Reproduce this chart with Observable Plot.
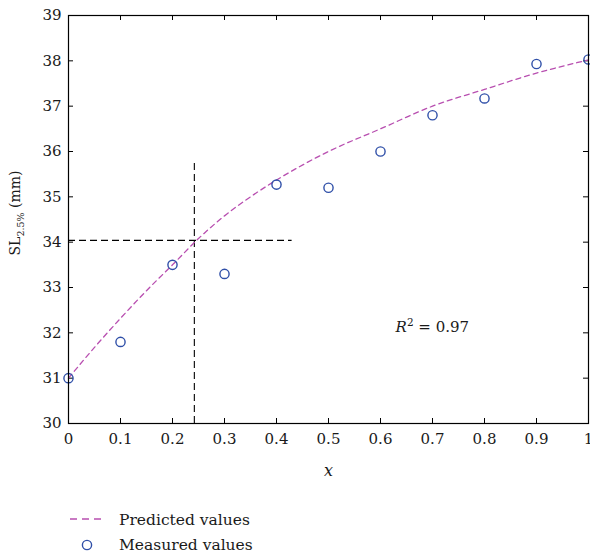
<!DOCTYPE html>
<html><head><meta charset="utf-8">
<script src="https://cdn.jsdelivr.net/npm/d3@7"></script>
<script src="https://cdn.jsdelivr.net/npm/@observablehq/plot@0.6"></script>
<style>
body{margin:0;background:#fff;font-family:"DejaVu Serif",serif;}
#wrap{position:relative;width:590px;height:556px;overflow:hidden;background:#fff}
#chart{position:absolute;left:0;top:0}
#legend{position:absolute;left:0;top:490px}
g[aria-label="x-axis label"] text{font-style:italic;font-size:16px}
</style></head><body>
<div id="wrap"><div id="chart"></div><div id="legend"></div></div>
<script>
// Measured values
const xMeasured = [0, 0.1, 0.2, 0.3, 0.4, 0.5, 0.6, 0.7, 0.8, 0.9, 1.0];
const yMeasured = [31.0, 31.8, 33.5, 33.3, 35.27, 35.2, 36.0, 36.8, 37.17, 37.93, 38.03];
// Predicted values (dashed curve)
const xPredicted = [0, 0.05, 0.1, 0.15, 0.2, 0.25, 0.3, 0.35, 0.4, 0.5, 0.6, 0.7, 0.8, 0.9, 1.0];
const yPredicted = [31.0, 31.68, 32.32, 32.93, 33.5, 34.08, 34.58, 35.0, 35.37, 36.0, 36.5, 37.0, 37.37, 37.73, 38.02];
// Reference lines
const refX = 0.242, refXTop = 35.76;
const refY = 34.04, refYRight = 0.43;
// Ticks
const xTicks = [0, 0.1, 0.2, 0.3, 0.4, 0.5, 0.6, 0.7, 0.8, 0.9, 1];
const yTicks = [30, 31, 32, 33, 34, 35, 36, 37, 38, 39];
const rSquared = "0.97";
const rLabelPos = {x: 0.63, y: 32.0};

const W = 590, H = 490, mL = 68, mR = 2, mT = 15, mB = 67;
const xDom = [0, 1], yDom = [30, 39];
const tickPx = 5;
const tLy = (yDom[1] - yDom[0]) * tickPx / (H - mT - mB);
const tLx = (xDom[1] - xDom[0]) * tickPx / (W - mL - mR);

const measured = xMeasured.map((x, i) => ({x, y: yMeasured[i]}));
const predicted = xPredicted.map((x, i) => ({x, y: yPredicted[i]}));

const purple = "#b84fb0", blue = "#2f4fa8";
const FONT = "DejaVu Serif, serif";

const chart = Plot.plot({
  width: W, height: H,
  marginLeft: mL, marginRight: mR, marginTop: mT, marginBottom: mB,
  style: {fontFamily: FONT, fontSize: "15px", color: "#1a1a1a", background: "#fff", overflow: "visible"},
  x: {domain: xDom, ticks: xTicks, tickFormat: d => String(d), tickSize: 0, tickPadding: 10,
      label: "x", labelAnchor: "center", labelArrow: "none", labelOffset: 52},
  y: {domain: yDom, ticks: yTicks, tickSize: 0, tickPadding: 7, label: null},
  marks: [
    Plot.ruleX(xTicks, {x: d => d, y1: yDom[0], y2: yDom[0] + tLy, stroke: "#000"}),
    Plot.ruleX(xTicks, {x: d => d, y1: yDom[1], y2: yDom[1] - tLy, stroke: "#000"}),
    Plot.ruleY(yTicks, {y: d => d, x1: xDom[0], x2: xDom[0] + tLx, stroke: "#000"}),
    Plot.ruleY(yTicks, {y: d => d, x1: xDom[1], x2: xDom[1] - tLx, stroke: "#000"}),
    Plot.ruleX([refX], {x: d => d, y1: yDom[0], y2: refXTop, stroke: "#000", strokeDasharray: "7,4", strokeWidth: 1.1}),
    Plot.ruleY([refY], {y: d => d, x1: xDom[0], x2: refYRight, stroke: "#000", strokeDasharray: "7,4", strokeWidth: 1.1}),
    Plot.line(predicted, {x: "x", y: "y", stroke: purple, strokeWidth: 1.3, strokeDasharray: "5,4", curve: "monotone-x"}),
    Plot.dot(measured, {x: "x", y: "y", r: 4.6, stroke: blue, strokeWidth: 1.4, fill: "none"}),
    Plot.frame({stroke: "#000", strokeWidth: 1.2})
  ]
});
document.getElementById("chart").appendChild(chart);

const svg = d3.select(chart);
const xs = chart.scale("x"), ys = chart.scale("y");
// y-axis label with subscript
const yl = svg.append("text")
  .attr("transform", `translate(20,${(mT + H - mB) / 2 - 6}) rotate(-90)`)
  .attr("text-anchor", "middle")
  .attr("font-family", FONT)
  .attr("font-size", 14).attr("fill", "#1a1a1a");
yl.append("tspan").text("SL");
yl.append("tspan").attr("font-size", 9.5).attr("dy", 3.5).text("2.5%");
yl.append("tspan").attr("dy", -3.5).text(" (mm)");
// R^2 annotation
const rt = svg.append("text")
  .attr("x", xs.apply(rLabelPos.x)).attr("y", ys.apply(rLabelPos.y))
  .attr("text-anchor", "start")
  .attr("font-family", FONT)
  .attr("font-size", 15).attr("fill", "#1a1a1a");
rt.append("tspan").attr("font-style", "italic").text("R");
rt.append("tspan").attr("font-size", 10.5).attr("dy", -6).text("2");
rt.append("tspan").attr("dy", 6).text(" = " + rSquared);

// Legend
const lg = d3.select("#legend").append("svg").attr("width", W).attr("height", 66)
  .attr("font-family", FONT).attr("font-size", 15.5);
lg.append("line").attr("x1", 70).attr("x2", 104).attr("y1", 29).attr("y2", 29)
  .attr("stroke", purple).attr("stroke-width", 1.3).attr("stroke-dasharray", "7,5");
lg.append("text").attr("x", 119).attr("y", 35).attr("fill", "#1a1a1a").text("Predicted values");
lg.append("circle").attr("cx", 87).attr("cy", 55).attr("r", 4.6)
  .attr("fill", "none").attr("stroke", blue).attr("stroke-width", 1.4);
lg.append("text").attr("x", 119).attr("y", 60).attr("fill", "#1a1a1a").text("Measured values");
</script>
</body></html>
